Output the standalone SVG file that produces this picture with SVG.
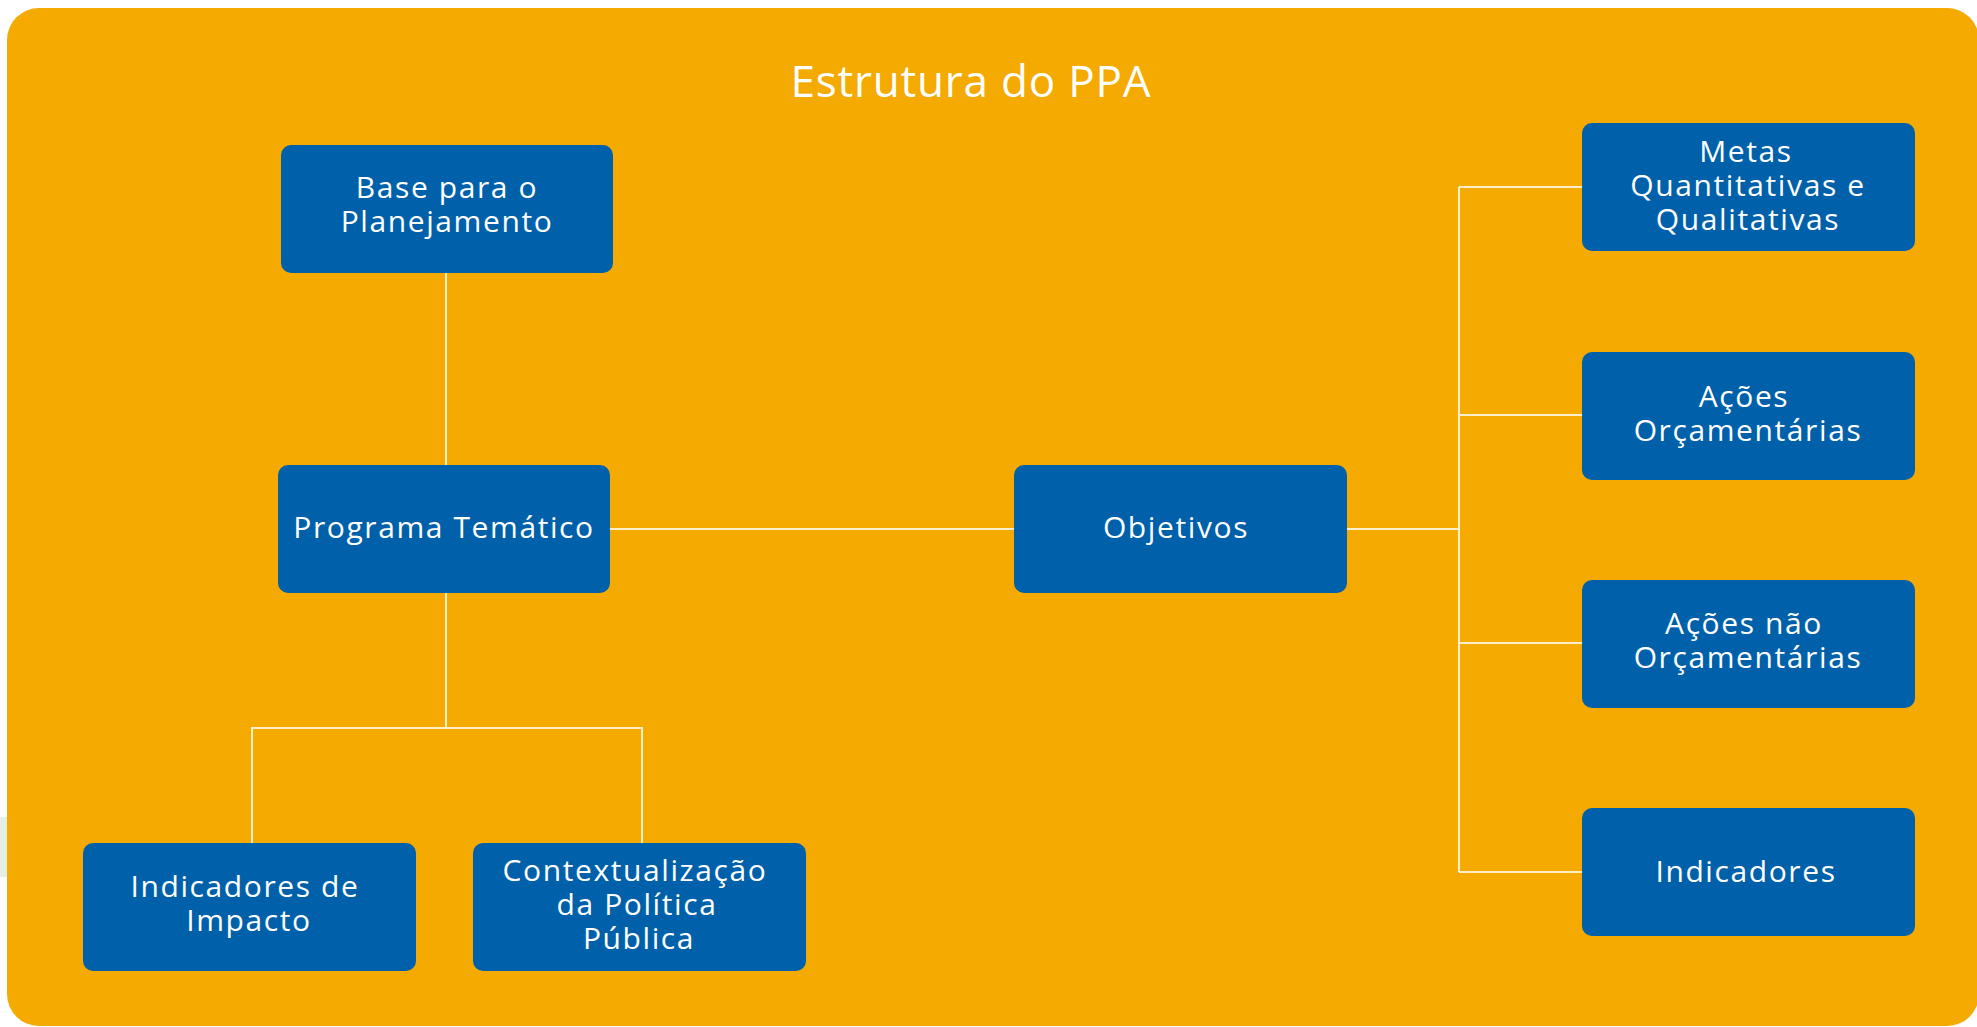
<svg xmlns="http://www.w3.org/2000/svg" width="1977" height="1027" viewBox="0 0 1977 1027">
<style>
.node{fill:#0061AA}
.t{font-family:"Open Sans","Liberation Sans",sans-serif;font-size:30px;fill:#FFFFFF;text-anchor:middle;letter-spacing:1.6px}
.title{font-family:"Open Sans","Liberation Sans",sans-serif;font-size:44px;fill:#FFFFFF;text-anchor:middle;letter-spacing:0.8px}
.c{stroke:#FFFFFF;stroke-opacity:0.8;stroke-width:2;fill:none}
</style>
<rect x="0" y="0" width="1977" height="1027" fill="#FFFFFF"/>
<rect x="0" y="817" width="8" height="60" fill="#E6EEE6"/>
<rect x="7" y="8" width="1972" height="1018" rx="32" ry="32" fill="#F4AA00"/>
<text class="title" x="971" y="97">Estrutura do PPA</text>
<g id="connectors">
<path class="c" d="M446 272V465"/>
<path class="c" d="M446 593V728M252 843V728H642V843"/>
<path class="c" d="M610 529H1014"/>
<path class="c" d="M1347 529H1459M1459 187V872M1459 187H1582M1459 415H1582M1459 643H1582M1459 872H1582"/>
</g>
<g id="base"><rect class="node" x="281" y="145" width="332" height="128" rx="10"/><text class="t" x="447" y="198">Base para o</text><text class="t" x="447" y="232">Planejamento</text></g>
<g id="programa"><rect class="node" x="278" y="465" width="332" height="128" rx="10"/><text class="t" x="444" y="538">Programa Temático</text></g>
<g id="objetivos"><rect class="node" x="1014" y="465" width="333" height="128" rx="10"/><text class="t" x="1176" y="538">Objetivos</text></g>
<g id="metas"><rect class="node" x="1582" y="123" width="333" height="128" rx="10"/><text class="t" x="1746" y="162">Metas</text><text class="t" x="1748" y="196">Quantitativas e</text><text class="t" x="1748" y="230">Qualitativas</text></g>
<g id="acoes-orc"><rect class="node" x="1582" y="352" width="333" height="128" rx="10"/><text class="t" x="1744" y="407">Ações</text><text class="t" x="1748" y="441">Orçamentárias</text></g>
<g id="acoes-nao"><rect class="node" x="1582" y="580" width="333" height="128" rx="10"/><text class="t" x="1744" y="634">Ações não</text><text class="t" x="1748" y="668">Orçamentárias</text></g>
<g id="indicadores"><rect class="node" x="1582" y="808" width="333" height="128" rx="10"/><text class="t" x="1746" y="882">Indicadores</text></g>
<g id="ind-impacto"><rect class="node" x="83" y="843" width="333" height="128" rx="10"/><text class="t" x="245" y="897">Indicadores de</text><text class="t" x="249" y="931">Impacto</text></g>
<g id="contexto"><rect class="node" x="473" y="843" width="333" height="128" rx="10"/><text class="t" x="635" y="881">Contextualização</text><text class="t" x="637" y="915">da Política</text><text class="t" x="639" y="949">Pública</text></g>
</svg>
